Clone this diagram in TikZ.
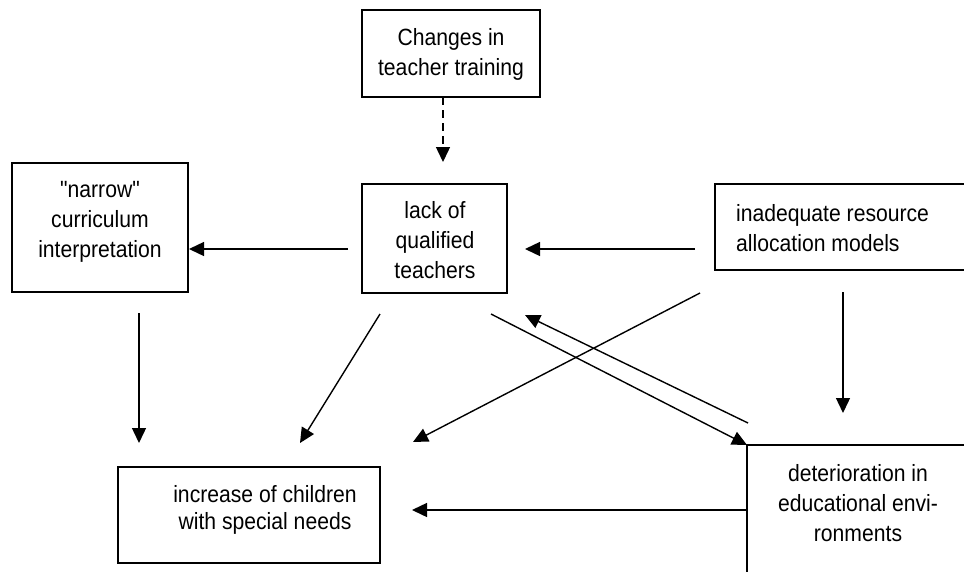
\documentclass[tikz,border=0pt]{standalone}
\usepackage{fontspec}
\setmainfont{Liberation Sans}[FakeStretch=0.9,Ligatures=TeXOff]
\usetikzlibrary{arrows.meta}
\begin{document}
\begin{tikzpicture}[x=1pt,y=-1pt,
  boxnode/.style={draw,line width=1.6pt,inner sep=0pt,minimum width=#1},
  txt/.style={font=\fontsize{23.5}{30}\selectfont,align=center,inner sep=0pt},
  conn/.style={line width=1.4pt,-{Triangle[length=15pt,width=14pt]}}]
\useasboundingbox (0,0) rectangle (964,571);
\clip (0,0) rectangle (964,571);
% boxes
\node[boxnode=178pt,minimum height=87pt] (changes) at (451,53.5) {};
\node[boxnode=145pt,minimum height=109pt] (lack) at (434.5,238.5) {};
\node[boxnode=176pt,minimum height=129pt] (narrow) at (100,227.5) {};
\node[boxnode=300pt,minimum height=86pt] (inad) at (865,227) {};
\node[boxnode=300pt,minimum height=170pt] (deter) at (897,530) {};
\node[boxnode=262pt,minimum height=96pt] (incr) at (249,515) {};
% texts
\node[txt] (tchanges) at (451,54) {Changes in\\teacher training};
\node[txt] (tlack) at (435,240) {lack of\\qualified\\teachers};
\node[txt] (tnarrow) at (100,222) {"narrow"\\curriculum\\interpretation};
\node[txt,align=left,anchor=west] (tinad) at (736,228) {inadequate resource\\allocation models};
\node[txt] (tdeter) at (858,503) {deterioration in\\educational envi-\\ronments};
\node[txt,font=\fontsize{23.5}{27}\selectfont] (tincr) at (265,510) {increase of children\\with special needs};
% connector end points
\coordinate (c1) at (443,97);   \coordinate (l1) at (443,162);
\coordinate (l2) at (348,249);  \coordinate (n1) at (189,249);
\coordinate (i1) at (695,249);  \coordinate (l3) at (525,249);
\coordinate (n2) at (139,313);  \coordinate (r1) at (139,443);
\coordinate (l4) at (380,314);  \coordinate (r2) at (300,443);
\coordinate (i2) at (700,293);  \coordinate (r3) at (413,442);
\coordinate (l5) at (491,314);  \coordinate (d1) at (747,445);
\coordinate (d2) at (748,423);  \coordinate (l6) at (525,315);
\coordinate (i3) at (843,292);  \coordinate (d3) at (843,413);
\coordinate (d4) at (747,510);  \coordinate (r4) at (412,510);
% connectors
\draw[conn,dash pattern=on 8pt off 5pt] (c1) -- (l1);
\draw[conn] (l2) -- (n1);
\draw[conn] (i1) -- (l3);
\draw[conn] (n2) -- (r1);
\draw[conn] (l4) -- (r2);
\draw[conn] (i2) -- (r3);
\draw[conn] (l5) -- (d1);
\draw[conn] (d2) -- (l6);
\draw[conn] (i3) -- (d3);
\draw[conn] (d4) -- (r4);
\end{tikzpicture}
\end{document}
